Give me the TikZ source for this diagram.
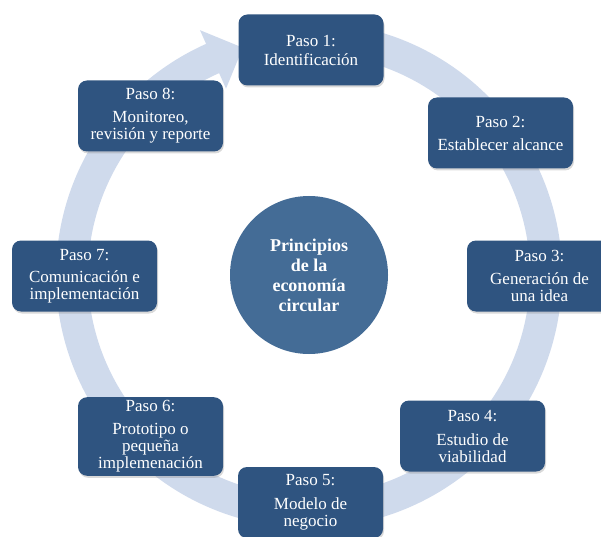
\documentclass[tikz,border=0pt]{standalone}
\usepackage{fontspec}
\setmainfont{Liberation Serif}
\usetikzlibrary{shadows}
\definecolor{pasoblue}{RGB}{47,84,128}
\definecolor{circblue}{RGB}{68,108,150}
\definecolor{ringblue}{RGB}{207,218,236}

\begin{document}
\begin{tikzpicture}[x=1pt,y=1pt]
  \tikzset{mystep/.style={rectangle, rounded corners=9pt, fill=pasoblue, text=white,
      minimum width=145pt, minimum height=71pt, align=center,
      font=\fontsize{17}{17}\selectfont,
      drop shadow={opacity=0.3, shadow xshift=1pt, shadow yshift=-2pt}}};
  \tikzset{mycenter/.style={circle, fill=circblue, text=white, minimum size=158pt,
      align=center, font=\bfseries\fontsize{18}{20}\selectfont}};
  \clip (0,0) rectangle (601,536);

  % big circular arrow behind the steps
  \begin{scope}[shift={(309,261)}]
    \fill[ringblue] (80:253) arc[start angle=80, end angle=-246, radius=253]
      -- (-246:268) -- (-66.2,227.3) -- (-246:204) -- (-246:221)
      arc[start angle=-246, end angle=80, radius=221] -- cycle;
  \end{scope}

  \node[mycenter] (ppios) at (309,261) {Principios\\de la\\economía\\circular};

  \node[mystep] (p1) at (311,486) {Paso 1:\\[2pt]Identificación};
  \node[mystep] (p2) at (500.5,403) {Paso 2:\\[6pt]Establecer alcance};
  \node[mystep] (p3) at (539.5,260) {Paso 3:\\[6pt]Generación de\\una idea};
  \node[mystep] (p4) at (472.5,100) {Paso 4:\\[7pt]Estudio de\\viabilidad};
  \node[mystep] (p5) at (310.5,33.5) {Paso 5:\\[7pt]Modelo de\\negocio};
  \node[mystep] (p6) at (150.5,99.5) {Paso 6:\\[6pt]Prototipo o\\pequeña\\implemenación};
  \node[mystep] (p7) at (84.5,260) {Paso 7:\\[5pt]Comunicación e\\implementación};
  \node[mystep] (p8) at (150.5,420) {Paso 8:\\[6pt]Monitoreo,\\revisión y reporte};
\end{tikzpicture}
\end{document}
